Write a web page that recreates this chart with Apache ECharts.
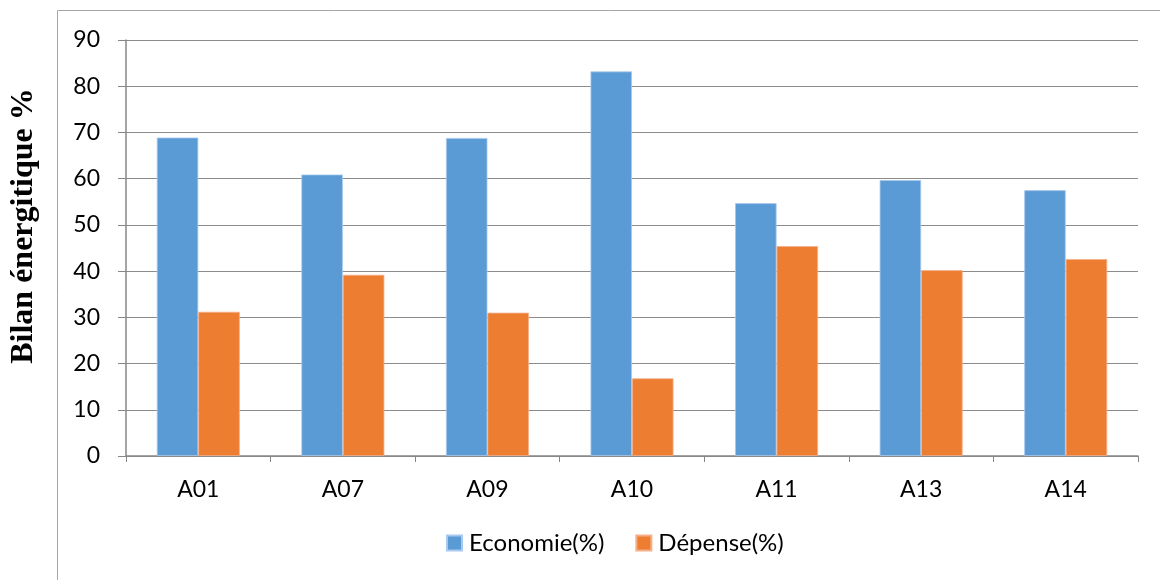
<!DOCTYPE html>
<html>
<head>
<meta charset="utf-8">
<script src="https://cdn.jsdelivr.net/npm/echarts@6/dist/echarts.min.js"></script>
<style>
  html, body { margin: 0; padding: 0; background: #fff; }
  #chart { width: 1160px; height: 580px; }
</style>
</head>
<body>
<div id="chart"></div>
<script>
// Energy balance per site: savings vs. consumption share
const categories = ['A01', 'A07', 'A09', 'A10', 'A11', 'A13', 'A14'];
const economie = [68.9, 60.9, 68.8, 83.2, 54.7, 59.7, 57.5];
const depense = [31.2, 39.2, 31.0, 16.8, 45.4, 40.2, 42.6];
const seriesNames = ['Economie(%)', 'Dépense(%)'];
const yAxisTitle = 'Bilan énergitique %';

const font = 'Lato, "Open Sans", sans-serif';

const chart = echarts.init(document.getElementById('chart'));
chart.setOption({
  animation: false,
  backgroundColor: '#fff',
  graphic: [{
    type: 'rect',
    shape: { x: 57.5, y: 10.5, width: 1200, height: 700 },
    style: { fill: 'none', stroke: '#a6a6a6', lineWidth: 1 },
    silent: true
  }],
  grid: { left: 126, right: 22, top: 40, bottom: 124 },
  legend: {
    data: seriesNames,
    top: 531,
    left: 446,
    padding: 0,
    itemWidth: 15,
    itemHeight: 15,
    itemGap: 31,
    icon: 'rect',
    textStyle: { fontFamily: font, fontSize: 24, color: '#000', padding: [0, 0, 0, 2] }
  },
  xAxis: {
    type: 'category',
    data: categories,
    axisLine: { lineStyle: { color: '#878787', width: 1.5 } },
    axisTick: { show: true, length: 6, lineStyle: { color: '#878787' } },
    axisLabel: { fontFamily: font, fontSize: 23, color: '#000', margin: 22 }
  },
  yAxis: {
    type: 'value',
    min: 0,
    max: 90,
    interval: 10,
    name: yAxisTitle,
    nameLocation: 'middle',
    nameGap: 86,
    nameTextStyle: {
      fontFamily: '"Liberation Serif", serif',
      fontWeight: 'bold',
      fontSize: 32,
      color: '#000',
      padding: [0, 0, 0, 44]
    },
    axisLine: { show: true, lineStyle: { color: '#878787', width: 1.5 } },
    axisTick: { show: true, inside: false, length: 8, lineStyle: { color: '#878787' } },
    axisLabel: { fontFamily: font, fontSize: 23, color: '#000', margin: 26 },
    splitLine: { lineStyle: { color: '#8c8c8c', width: 1 } }
  },
  series: [
    {
      name: seriesNames[0],
      type: 'bar',
      data: economie,
      barGap: '0%',
      barCategoryGap: '42.6%',
      itemStyle: { color: '#5B9BD5', borderColor: '#a9c9ee', borderWidth: 0.8 }
    },
    {
      name: seriesNames[1],
      type: 'bar',
      data: depense,
      itemStyle: { color: '#ED7D31', borderColor: '#f5b08a', borderWidth: 0.8 }
    }
  ]
});
</script>
</body>
</html>
